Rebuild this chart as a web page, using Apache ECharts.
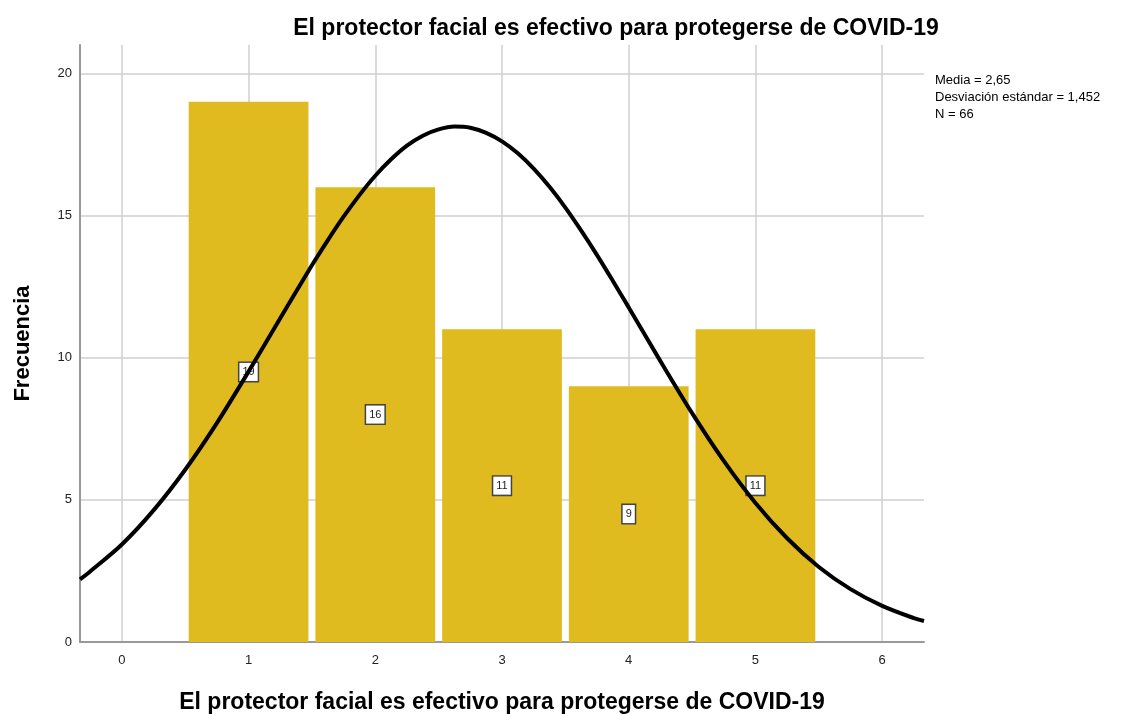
<!DOCTYPE html>
<html>
<head>
    <meta http-equiv=Content-Type content="text/html; charset=utf-8">
    <title>Histograma</title>
    <script type="text/javascript" src="https://cdn.jsdelivr.net/npm/echarts@6/dist/echarts.min.js"></script>
    <style>
        html, body { margin: 0; padding: 0; background: #fff; }
    </style>
</head>
<body>
<div id="chartmain" style="width:1142px; height:714px;"></div>

<script type="text/javascript">
    // categorías (valores de la escala) y frecuencias
    var categorias = [1, 2, 3, 4, 5];
    var frecuencias = [19, 16, 11, 9, 11];

    // curva normal (x, frecuencia)
    var curvaX = [-0.33, -0.25, 0, 0.25, 0.5, 0.75, 1, 1.25, 1.5, 1.625, 1.75, 1.875, 2, 2.125, 2.25, 2.375, 2.5, 2.625, 2.75, 2.875, 3, 3.125, 3.25, 3.375, 3.5, 3.625, 3.75, 3.875, 4, 4.25, 4.5, 4.75, 5, 5.25, 5.5, 5.75, 6, 6.25, 6.33];
    var curvaY = [2.2, 2.48, 3.43, 4.63, 6.06, 7.70, 9.51, 11.39, 13.25, 14.13, 14.96, 15.72, 16.40, 16.98, 17.46, 17.81, 18.03, 18.13, 18.09, 17.91, 17.61, 17.19, 16.65, 16.01, 15.28, 14.47, 13.61, 12.70, 11.77, 9.88, 8.05, 6.37, 4.89, 3.65, 2.64, 1.86, 1.27, 0.84, 0.74];

    var textos = ['Media = 2,65', 'Desviación estándar = 1,452', 'N = 66'];

    var myChart = echarts.init(document.getElementById('chartmain'));

    var barras = [];
    for (var i = 0; i < categorias.length; i++) {
        barras.push([categorias[i], frecuencias[i]]);
    }
    var curva = [];
    for (var j = 0; j < curvaX.length; j++) {
        curva.push([curvaX[j], curvaY[j]]);
    }

    var medio = 0.4725; // media anchura de barra (en unidades del eje)
    var fuente = 'Liberation Sans, Arial, sans-serif';

    var option = {
        animation: false,
        title: {
            text: 'El protector facial es efectivo para protegerse de COVID-19',
            left: 611,
            top: 12,
            textAlign: 'center',
            textStyle: {
                fontFamily: fuente,
                fontSize: 23,
                fontWeight: 'bold',
                color: '#000'
            }
        },
        graphic: [{
            type: 'text',
            left: 935,
            top: 72,
            style: {
                text: textos.join('\n'),
                fontFamily: fuente,
                fontSize: 13,
                lineHeight: 17,
                fill: '#000'
            }
        }],
        grid: {
            left: 80,
            right: 218,
            top: 45,
            bottom: 72,
            outerBoundsMode: 'none',
            containLabel: false
        },
        xAxis: {
            type: 'value',
            min: -0.33,
            max: 6.33,
            splitNumber: 6,
            name: 'El protector facial es efectivo para protegerse de COVID-19',
            nameLocation: 'middle',
            nameGap: 49,
            nameTextStyle: {
                fontFamily: fuente,
                fontSize: 23,
                fontWeight: 'bold',
                color: '#000'
            },
            axisLine: { onZero: false, lineStyle: { color: '#999', width: 2 } },
            axisTick: { show: false },
            axisLabel: {
                showMinLabel: false,
                showMaxLabel: false,
                margin: 12,
                fontFamily: fuente,
                fontSize: 13,
                color: '#222'
            },
            splitLine: {
                show: true,
                lineStyle: {
                    color: ['transparent', '#cfcfcf', '#cfcfcf', '#cfcfcf', '#cfcfcf', '#cfcfcf', '#cfcfcf', '#cfcfcf', 'transparent'],
                    width: 1.5
                }
            }
        },
        yAxis: {
            type: 'value',
            min: 0,
            max: 21,
            interval: 5,
            name: 'Frecuencia',
            nameLocation: 'middle',
            nameGap: 46,
            nameTextStyle: {
                fontFamily: fuente,
                fontSize: 22,
                fontWeight: 'bold',
                color: '#000'
            },
            axisLine: { show: true, onZero: false, lineStyle: { color: '#999', width: 2 } },
            axisTick: { show: false },
            axisLabel: {
                showMaxLabel: false,
                margin: 8,
                fontFamily: fuente,
                fontSize: 13,
                color: '#222'
            },
            splitLine: {
                show: true,
                lineStyle: {
                    color: ['#cfcfcf', '#cfcfcf', '#cfcfcf', '#cfcfcf', '#cfcfcf', 'transparent'],
                    width: 1.5
                }
            }
        },
        series: [
            {
                name: 'Frecuencia',
                type: 'custom',
                z: 2,
                data: barras,
                renderItem: function (params, api) {
                    var x = api.value(0);
                    var y = api.value(1);
                    var p1 = api.coord([x - medio, y]);
                    var p2 = api.coord([x + medio, 0]);
                    var pm = api.coord([x, y / 2]);
                    return {
                        type: 'group',
                        children: [
                            {
                                type: 'rect',
                                shape: { x: p1[0], y: p1[1], width: p2[0] - p1[0], height: p2[1] - p1[1] },
                                style: { fill: '#dfbb1f' }
                            },
                            {
                                type: 'text',
                                x: pm[0],
                                y: pm[1],
                                style: {
                                    text: String(y),
                                    align: 'center',
                                    verticalAlign: 'middle',
                                    fontFamily: fuente,
                                    fontSize: 11,
                                    fill: '#222',
                                    backgroundColor: '#fff',
                                    borderColor: '#444',
                                    borderWidth: 1.5,
                                    padding: [4, 3, 3, 3]
                                }
                            }
                        ]
                    };
                }
            },
            {
                name: 'Normal',
                type: 'line',
                z: 5,
                smooth: 0.3,
                showSymbol: false,
                data: curva,
                lineStyle: { color: '#000', width: 4 }
            }
        ]
    };
    myChart.setOption(option);
</script>
</body>
</html>
